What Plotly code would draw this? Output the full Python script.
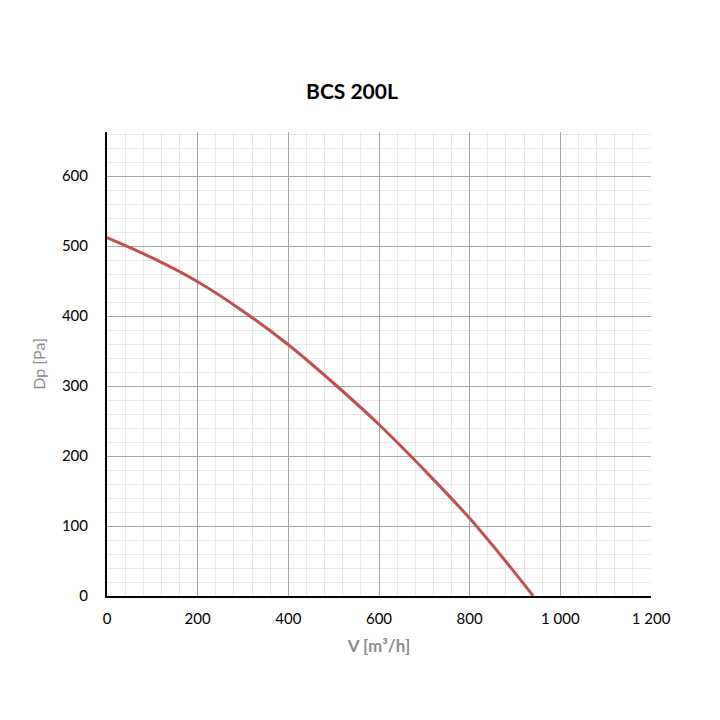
import plotly.graph_objects as go

# Fan curve BCS 200L
airflow = [0, 100, 200, 300, 400, 500, 600, 700, 800, 900, 940]
pressure = [512, 483, 449, 407, 359, 304, 245, 180, 111, 33, 0]

x_ticks = [0, 200, 400, 600, 800, 1000, 1200]
y_ticks = [0, 100, 200, 300, 400, 500, 600]

FONT = "Lato, 'Open Sans', sans-serif"
GREY = "#8c8c8c"

fig = go.Figure()
fig.add_trace(go.Scatter(x=airflow, y=pressure, mode="lines", line_shape="spline",
                         line=dict(color="#c0504d", width=3), showlegend=False))

# page body adds an 8px offset, so margins are shifted to compensate
fig.update_layout(
    width=720, height=720,
    paper_bgcolor="white", plot_bgcolor="white",
    margin=dict(l=99, r=77, t=124, b=132),
    separators=". ",
    title=dict(text="<b>BCS 200L</b>", x=(352 - 8) / 720, xanchor="center", y=1 - 84 / 720, yanchor="middle",
               font=dict(family=FONT, size=21, color="black")),
    font=dict(family=FONT, size=15, color="black"),
)

fig.update_xaxes(
    range=[0, 1200], tickvals=x_ticks, tickformat=",d",
    showline=True, linecolor="black", linewidth=2,
    showgrid=True, gridcolor="#a6a6a6", gridwidth=1.3,
    minor=dict(dtick=40, showgrid=True, gridcolor="#e8e8e8", gridwidth=1),
    ticks="", ticklabelstandoff=8,
    tickfont=dict(family=FONT, size=15, color="black"),
    title=dict(text="<b>V [m³/h]</b>", standoff=14, font=dict(family=FONT, size=17, color=GREY)),
    zeroline=False,
)
fig.update_yaxes(
    range=[0, 663], tickvals=y_ticks,
    showline=True, linecolor="black", linewidth=2,
    showgrid=True, gridcolor="#a6a6a6", gridwidth=1.3,
    minor=dict(dtick=20, showgrid=True, gridcolor="#e8e8e8", gridwidth=1),
    ticks="", ticklabelstandoff=14,
    tickfont=dict(family=FONT, size=15, color="black"),
    title=dict(text="Dp [Pa]", standoff=12, font=dict(family=FONT, size=16, color=GREY)),
    zeroline=False,
)

fig.write_html("out.html")
